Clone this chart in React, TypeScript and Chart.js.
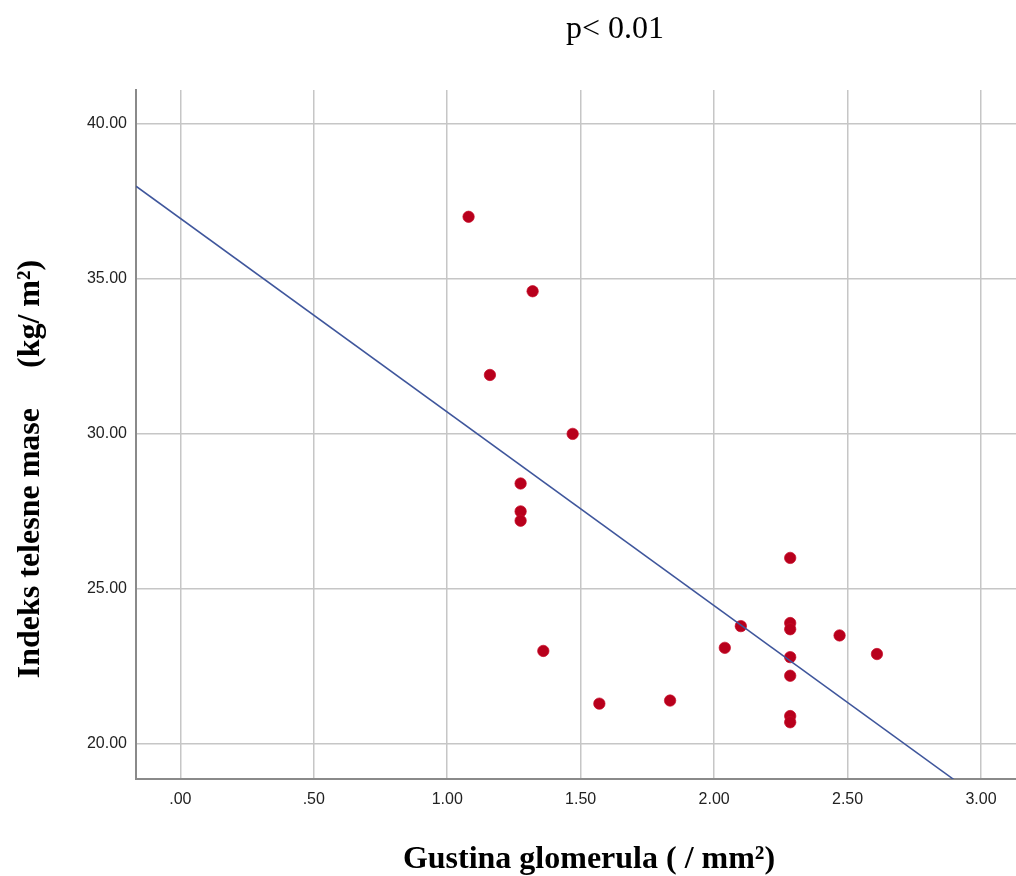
import React, { useEffect, useRef } from "react";
import { Chart, registerables } from "chart.js";

Chart.register(...registerables);

// Glomerular density (x) and body-mass index (y)
const densityValues = [1.08, 1.32, 1.16, 1.47, 1.275, 1.275, 1.275, 1.36, 1.57, 1.835, 2.04, 2.1, 2.285, 2.285, 2.285, 2.285, 2.285, 2.285, 2.285, 2.47, 2.61];
const bmiValues = [37.0, 34.6, 31.9, 30.0, 28.4, 27.5, 27.2, 23.0, 21.3, 21.4, 23.1, 23.8, 26.0, 23.9, 23.7, 22.8, 22.2, 20.9, 20.7, 23.5, 22.9];

// Fit line as drawn in the picture
const fitIntercept = 36.95;
const fitSlope = -6.245;

const xTickValues = [0, 0.5, 1, 1.5, 2, 2.5, 3];
const xTickLabels = [".00", ".50", "1.00", "1.50", "2.00", "2.50", "3.00"];
const yTickValues = [20, 25, 30, 35, 40];
const yTickLabels = ["20.00", "25.00", "30.00", "35.00", "40.00"];

const xMin = -0.166;
const xMax = 3.131;
const yMin = 18.87;
const yMax = 41.09;

const titleText = "p< 0.01";
const xTitleText = "Gustina glomerula ( / mm\u00B2)";
const yTitleText = "Indeks telesne mase\u00A0\u00A0\u00A0\u00A0\u00A0(kg/ m\u00B2)";

const W = 1016;
const H = 876;

const textPlugin = {
  id: "textPlugin",
  afterDraw(chart: any) {
    const ctx = chart.ctx;
    ctx.save();
    ctx.fillStyle = "#000";
    ctx.textBaseline = "alphabetic";
    ctx.textAlign = "center";
    ctx.font = "32px 'Liberation Serif', 'Times New Roman', serif";
    ctx.fillText(titleText, 615, 38);
    ctx.font = "bold 32px 'Liberation Serif', 'Times New Roman', serif";
    ctx.fillText(xTitleText, 589, 868);
    ctx.translate(39, 469);
    ctx.rotate(-Math.PI / 2);
    ctx.fillText(yTitleText, 0, 0);
    ctx.restore();
  },
};

export default function App() {
  const ref = useRef<HTMLCanvasElement | null>(null);

  useEffect(() => {
    if (!ref.current) return;
    const points = densityValues.map((x, i) => ({ x, y: bmiValues[i] }));
    const fitLine = [xMin, xMax].map((x) => ({ x, y: fitIntercept + fitSlope * x }));
    const tickFont = { family: "'Liberation Sans', Arial, sans-serif", size: 16 };

    const chart = new Chart(ref.current, {
      type: "scatter",
      data: {
        datasets: [
          {
            label: "fit",
            data: fitLine,
            showLine: true,
            borderColor: "#3f569c",
            borderWidth: 1.5,
            pointRadius: 0,
            order: 0,
          } as any,
          {
            label: "BMI",
            data: points,
            backgroundColor: "#b8001c",
            borderColor: "rgba(200,10,40,0.7)",
            borderWidth: 1,
            pointRadius: 5.7,
            order: 1,
          },
        ],
      },
      options: {
        responsive: false,
        animation: false,
        layout: { autoPadding: false, padding: { top: 90, left: 0, right: 0, bottom: 0 } },
        plugins: { legend: { display: false }, tooltip: { enabled: false }, title: { display: false } },
        scales: {
          x: {
            type: "linear",
            min: xMin,
            max: xMax,
            afterFit: (s: any) => {
              s.height = 97;
              s.paddingLeft = 0;
              s.paddingRight = 0;
            },
            afterBuildTicks: (s: any) => {
              s.ticks = xTickValues.map((v) => ({ value: v }));
            },
            ticks: {
              autoSkip: false,
              maxRotation: 0,
              padding: 11,
              color: "#222",
              font: tickFont,
              callback: (v: any) => {
                const i = xTickValues.indexOf(Number(v));
                return i >= 0 ? xTickLabels[i] : "";
              },
            },
            grid: { color: "#c6c6c6", lineWidth: 1.5, drawTicks: false },
            border: { color: "#8a8a8a", width: 2 },
          },
          y: {
            type: "linear",
            min: yMin,
            max: yMax,
            afterFit: (s: any) => {
              s.width = 136;
              s.paddingTop = 0;
              s.paddingBottom = 0;
            },
            afterBuildTicks: (s: any) => {
              s.ticks = yTickValues.map((v) => ({ value: v }));
            },
            ticks: {
              autoSkip: false,
              padding: 9,
              color: "#222",
              font: tickFont,
              callback: (v: any) => {
                const i = yTickValues.indexOf(Number(v));
                return i >= 0 ? yTickLabels[i] : "";
              },
            },
            grid: { color: "#c6c6c6", lineWidth: 1.5, drawTicks: false },
            border: { color: "#8a8a8a", width: 2 },
          },
        },
      },
      plugins: [textPlugin],
    });
    return () => chart.destroy();
  }, []);

  return (
    <div style={{ position: "absolute", left: 0, top: 0, width: W, height: H, background: "#fff" }}>
      <canvas ref={ref} width={W} height={H} style={{ display: "block", width: W, height: H }} />
    </div>
  );
}
